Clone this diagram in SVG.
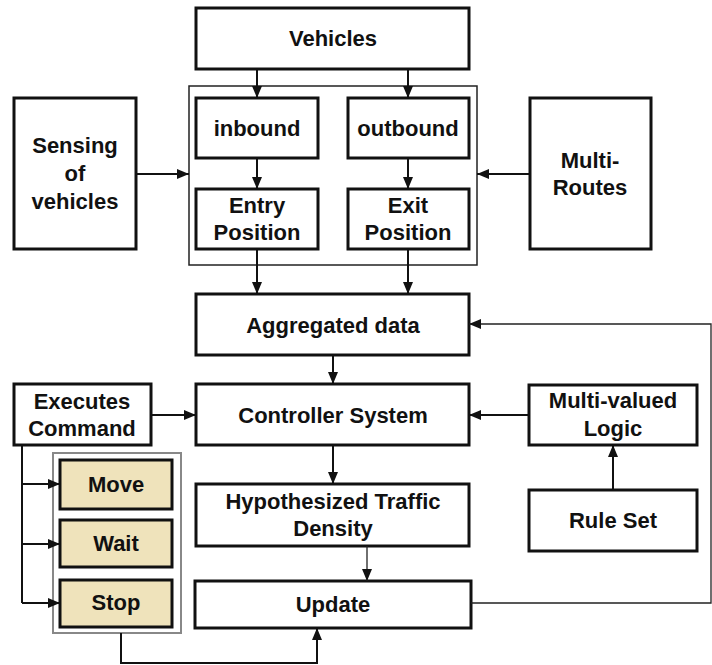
<svg xmlns="http://www.w3.org/2000/svg" width="712" height="665" viewBox="0 0 712 665">
<style>
.b{fill:#fff;stroke:#111;stroke-width:3}
.t{fill:#efe3bb;stroke:#111;stroke-width:3}
.c{fill:none;stroke:#222;stroke-width:1.5}
.g{fill:none;stroke:#888;stroke-width:2}
.l{fill:none;stroke:#111;stroke-width:2}
.lt{fill:none;stroke:#222;stroke-width:1.3}
text{font-family:"Liberation Sans",Arial,sans-serif;font-weight:bold;font-size:22px;fill:#111;text-anchor:middle}
</style>
<defs>
<marker id="a" viewBox="0 0 12 10" refX="12" refY="5" markerWidth="12" markerHeight="10" markerUnits="userSpaceOnUse" orient="auto"><path d="M0,0L12,5L0,10z" fill="#111"/></marker>
</defs>
<rect width="712" height="665" fill="#fff"/>
<g id="containers">
<rect class="c" x="189" y="86" width="288" height="179"/>
<rect class="g" x="53" y="453" width="128" height="180"/>
</g>
<g id="vehicles"><rect class="b" x="196" y="8" width="273" height="61"/><text x="333" y="46">Vehicles</text></g>
<g id="inbound"><rect class="b" x="196" y="98" width="122" height="60"/><text x="257" y="136">inbound</text></g>
<g id="outbound"><rect class="b" x="348" y="98" width="121" height="60"/><text x="408" y="136">outbound</text></g>
<g id="entry"><rect class="b" x="196" y="189" width="122" height="60"/><text x="257" y="213">Entry</text><text x="257" y="240">Position</text></g>
<g id="exit"><rect class="b" x="348" y="189" width="121" height="60"/><text x="408" y="213">Exit</text><text x="408" y="240">Position</text></g>
<g id="sensing"><rect class="b" x="14" y="98" width="122" height="151"/><text x="75" y="153">Sensing</text><text x="75" y="181">of</text><text x="75" y="209">vehicles</text></g>
<g id="multiroutes"><rect class="b" x="530" y="98" width="121" height="151"/><text x="590" y="168">Multi-</text><text x="590" y="195">Routes</text></g>
<g id="aggregated"><rect class="b" x="196" y="294" width="273" height="61"/><text x="333" y="333">Aggregated data</text></g>
<g id="controller"><rect class="b" x="196" y="384" width="273" height="61"/><text x="333" y="423">Controller System</text></g>
<g id="executes"><rect class="b" x="14" y="384" width="137" height="61"/><text x="82" y="409">Executes</text><text x="82" y="436">Command</text></g>
<g id="multivalued"><rect class="b" x="529" y="385" width="168" height="60"/><text x="613" y="408">Multi-valued</text><text x="613" y="436">Logic</text></g>
<g id="hypothesized"><rect class="b" x="196" y="484" width="273" height="62"/><text x="333" y="509">Hypothesized Traffic</text><text x="333" y="536">Density</text></g>
<g id="ruleset"><rect class="b" x="529" y="490" width="168" height="61"/><text x="613" y="528">Rule Set</text></g>
<g id="update"><rect class="b" x="195" y="581" width="276" height="47"/><text x="333" y="612">Update</text></g>
<g id="move"><rect class="t" x="60" y="460" width="112" height="49"/><text x="116" y="492">Move</text></g>
<g id="wait"><rect class="t" x="60" y="520" width="112" height="47"/><text x="116" y="551">Wait</text></g>
<g id="stop"><rect class="t" x="60" y="580" width="112" height="47"/><text x="116" y="610">Stop</text></g>
<g id="connectors">
<path class="l" d="M257,69V98" marker-end="url(#a)"/>
<path class="l" d="M408,69V98" marker-end="url(#a)"/>
<path class="l" d="M257,158V189" marker-end="url(#a)"/>
<path class="l" d="M408,158V189" marker-end="url(#a)"/>
<path class="l" d="M136,174H189" marker-end="url(#a)"/>
<path class="l" d="M530,174H477" marker-end="url(#a)"/>
<path class="l" d="M257,249V294" marker-end="url(#a)"/>
<path class="l" d="M408,249V294" marker-end="url(#a)"/>
<path class="l" d="M333,355V384" marker-end="url(#a)"/>
<path class="l" d="M151,415H196" marker-end="url(#a)"/>
<path class="l" d="M529,415H469" marker-end="url(#a)"/>
<path class="l" d="M333,445V484" marker-end="url(#a)"/>
<path class="lt" d="M367,546V581" marker-end="url(#a)"/>
<path class="l" d="M613,490V445" marker-end="url(#a)"/>
<path class="lt" d="M471,603H711V324H469" marker-end="url(#a)"/>
<path class="l" d="M22,445V603"/>
<path class="l" d="M22,484H60" marker-end="url(#a)"/>
<path class="l" d="M22,544H60" marker-end="url(#a)"/>
<path class="l" d="M22,603H60" marker-end="url(#a)"/>
<path class="l" d="M121,633V663H317V628" marker-end="url(#a)"/>
</g>
</svg>
